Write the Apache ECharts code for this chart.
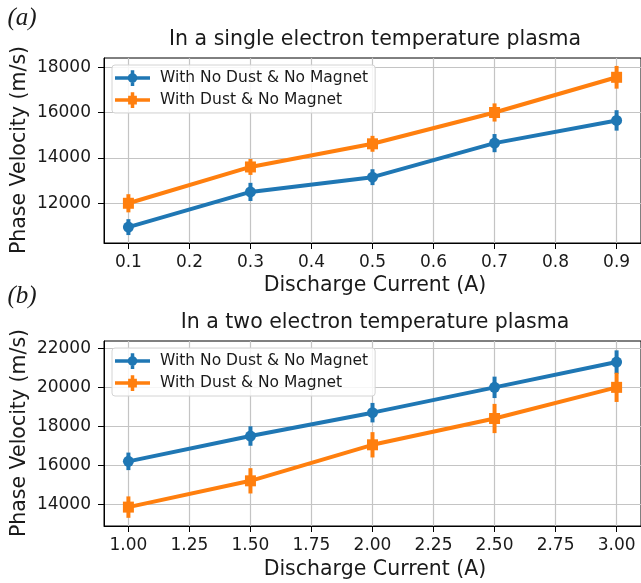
<!DOCTYPE html>
<html>
<head>
<meta charset="utf-8">
<script src="https://cdn.jsdelivr.net/npm/echarts@6/dist/echarts.min.js"></script>
<style>
  html, body { margin: 0; padding: 0; background: #fff; }
  #main { width: 641px; height: 583px; }
</style>
</head>
<body>
<div id="main"></div>
<script>
// (a) single electron temperature plasma
const currentA = [0.1, 0.3, 0.5, 0.7, 0.9];
const noDustA = [10950, 12500, 13150, 14650, 15650];
const noDustErrA = [350, 400, 350, 400, 450];
const dustA = [12000, 13600, 14620, 16000, 17550];
const dustErrA = [400, 350, 350, 400, 500];
const xTicksA = [0.1, 0.2, 0.3, 0.4, 0.5, 0.6, 0.7, 0.8, 0.9];
const yTicksA = [12000, 14000, 16000, 18000];

// (b) two electron temperature plasma
const currentB = [1.0, 1.5, 2.0, 2.5, 3.0];
const noDustB = [16200, 17500, 18700, 20000, 21300];
const noDustErrB = [450, 500, 500, 550, 600];
const dustB = [13850, 15200, 17050, 18400, 20000];
const dustErrB = [550, 650, 650, 750, 750];
const xTicksB = [1.0, 1.25, 1.5, 1.75, 2.0, 2.25, 2.5, 2.75, 3.0];
const yTicksB = [14000, 16000, 18000, 20000, 22000];

const names = ['With No Dust & No Magnet', 'With Dust & No Magnet'];
const BLUE = '#1f77b4';
const ORANGE = '#ff7f0e';
const FONT = 'DejaVu Sans';

// legend icons: line + marker + error bar
const blueIcon = 'path://M0 7L40 7L40 11L0 11Z M18 0L22 0L22 18L18 18Z M25.5 9A5.5 5.5 0 1 1 14.5 9A5.5 5.5 0 1 1 25.5 9Z';
const orangeIcon = 'path://M0 7L40 7L40 11L0 11Z M18 0L22 0L22 18L18 18Z M15 4L25 4L25 14L15 14Z';

function pairs(x, y) { return x.map((v, i) => [v, y[i]]); }
function bars(x, y, e) { return x.map((v, i) => [v, y[i] - e[i], y[i] + e[i]]); }

function errSeries(idx, x, y, e, color) {
  return {
    type: 'custom', xAxisIndex: idx, yAxisIndex: idx, z: 2, silent: true,
    data: bars(x, y, e),
    renderItem: function (params, api) {
      const p1 = api.coord([api.value(0), api.value(1)]);
      const p2 = api.coord([api.value(0), api.value(2)]);
      return { type: 'line', shape: { x1: p1[0], y1: p1[1], x2: p2[0], y2: p2[1] },
               style: { stroke: color, lineWidth: 4 } };
    }
  };
}

function lineSeries(idx, name, x, y, color, symbol, size) {
  return {
    type: 'line', name: name, xAxisIndex: idx, yAxisIndex: idx, z: 3,
    data: pairs(x, y), symbol: symbol, symbolSize: size, showSymbol: true,
    lineStyle: { width: 4, color: color }, itemStyle: { color: color, borderWidth: 0 }
  };
}

function xAxis(idx, min, max, ticks, digits) {
  return {
    type: 'value', gridIndex: idx, min: min, max: max,
    axisLine: { show: true, onZero: false, lineStyle: { color: '#000', width: 1 } },
    axisTick: { show: true, length: 6, customValues: ticks, lineStyle: { color: '#000' } },
    axisLabel: { customValues: ticks, margin: 11, fontFamily: FONT, fontSize: 17, color: '#1a1a1a',
                 formatter: v => v.toFixed(digits) },
    splitLine: { show: true, lineStyle: { color: '#c4c4c4', width: 1.2 } }
  };
}

function yAxis(idx, min, max, ticks) {
  return {
    type: 'value', gridIndex: idx, min: min, max: max,
    axisLine: { show: true, onZero: false, lineStyle: { color: '#000', width: 1 } },
    axisTick: { show: true, length: 6, customValues: ticks, lineStyle: { color: '#000' } },
    axisLabel: { customValues: ticks, margin: 13, fontFamily: FONT, fontSize: 17, color: '#1a1a1a',
                 formatter: v => String(v) },
    splitLine: { show: true, lineStyle: { color: '#c4c4c4', width: 1.2 } }
  };
}

function legend(top) {
  return {
    left: 112, top: top, orient: 'vertical', itemWidth: 35, itemHeight: 16, itemGap: 4,
    padding: [4, 7, 4, 3], backgroundColor: 'rgba(255,255,255,0.85)',
    borderColor: '#d4d4d4', borderWidth: 1, borderRadius: 3,
    textStyle: { fontFamily: FONT, fontSize: 15.5, color: '#1a1a1a', lineHeight: 18, padding: [0, 0, 0, 5] },
    data: [{ name: names[0], icon: blueIcon }, { name: names[1], icon: orangeIcon }]
  };
}

function label(text, x, y, size, rotate, font) {
  return {
    type: 'text', x: x, y: y, rotation: rotate ? Math.PI / 2 : 0,
    style: { text: text, fill: '#1a1a1a', font: font || (size + 'px "' + FONT + '"'),
             align: 'center', verticalAlign: 'middle' }
  };
}

const chart = echarts.init(document.getElementById('main'));
chart.setOption({
  animation: false,
  backgroundColor: '#fff',
  grid: [
    { left: 104, top: 58, width: 543, height: 185, show: true, borderColor: '#000', borderWidth: 1 },
    { left: 104, top: 341, width: 543, height: 185, show: true, borderColor: '#000', borderWidth: 1 }
  ],
  xAxis: [xAxis(0, 0.06, 0.94, xTicksA, 1), xAxis(1, 0.9, 3.1, xTicksB, 2)],
  yAxis: [yAxis(0, 10250, 18400, yTicksA), yAxis(1, 12880, 22380, yTicksB)],
  legend: [legend(65), legend(348)],
  series: [
    errSeries(0, currentA, noDustA, noDustErrA, BLUE),
    errSeries(0, currentA, dustA, dustErrA, ORANGE),
    lineSeries(0, names[0], currentA, noDustA, BLUE, 'circle', 11),
    lineSeries(0, names[1], currentA, dustA, ORANGE, 'rect', 11),
    errSeries(1, currentB, noDustB, noDustErrB, BLUE),
    errSeries(1, currentB, dustB, dustErrB, ORANGE),
    lineSeries(1, names[0], currentB, noDustB, BLUE, 'circle', 11),
    lineSeries(1, names[1], currentB, dustB, ORANGE, 'rect', 11)
  ],
  graphic: [
    label('(a)', 22, 18, 0, false, 'italic 25px "Liberation Serif"'),
    label('(b)', 22, 296, 0, false, 'italic 25px "Liberation Serif"'),
    label('In a single electron temperature plasma', 375, 40, 20.5),
    label('In a two electron temperature plasma', 375, 323, 20.5),
    label('Discharge Current (A)', 375, 286, 20.5),
    label('Discharge Current (A)', 375, 570, 20.5),
    label('Phase Velocity (m/s)', 20, 150, 20.5, true),
    label('Phase Velocity (m/s)', 20, 433, 20.5, true)
  ]
});
</script>
</body>
</html>
